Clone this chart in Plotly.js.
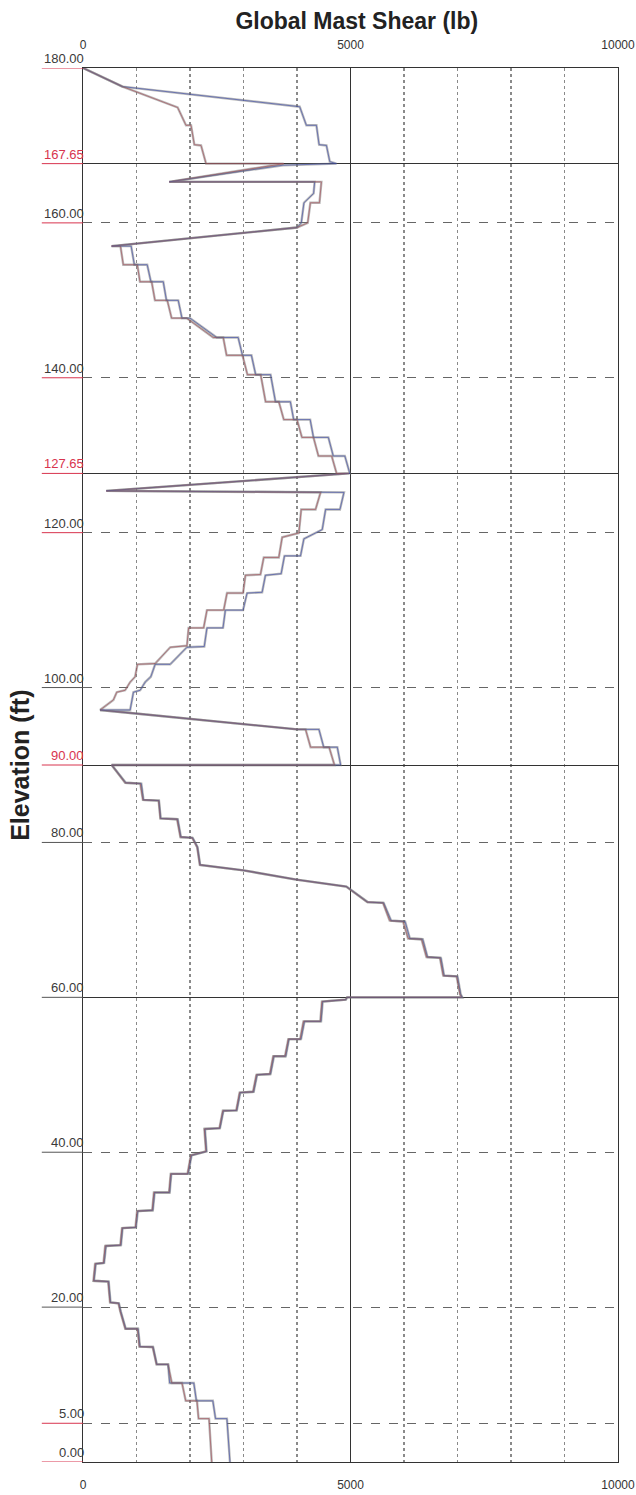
<!DOCTYPE html>
<html>
<head>
<meta charset="utf-8">
<script src="https://cdn.plot.ly/plotly-3.0.1.min.js"></script>
<style>
  html, body { margin: 0; padding: 0; background: #fff; }
  #chart { width: 636px; height: 1495px; }
</style>
</head>
<body>
<div id="chart"></div>
<script>
// ---- tick labels / elevations ----
const labelElev = [180, 167.65, 160, 140, 127.65, 120, 100, 90, 80, 60, 40, 20, 5, 0];
const labelText = ['180.00', '167.65', '160.00', '140.00', '127.65', '120.00', '100.00', '90.00', '80.00', '60.00', '40.00', '20.00', '5.00', '0.00'];
const labelRed = [false, true, false, false, true, false, false, true, false, false, false, false, false, false];
const underlineRed = [true, true, true, true, true, true, false, true, false, false, false, false, true, true];
const sectionElev = [180, 167.65, 127.65, 90, 60, 0];
const gridElev = [160, 140, 120, 100, 80, 40, 20, 5];
const shearTicks = [0, 5000, 10000];

// ---- series 1 (red) ----
const redShear = [
  0, 738, 1769, 1925, 2019, 2081, 2206, 2300,
  3750, 1613, 4456, 4420, 4250, 4200, 4000,
  535, 700, 753, 1015, 1065, 1283, 1345, 1575, 1656, 1937, 2435, 2621, 2684, 2981,
  3074, 3321, 3413, 3660, 3753, 4000, 4092, 4308, 4401, 4648, 4740,
  4970, 436, 4441, 4347, 4079, 4035, 3723, 3660, 3379, 3317, 3036, 2992, 2692, 2630, 2317,
  2255, 1974, 1943, 1630, 1349, 1018, 974, 881, 787, 631, 568, 319,
  4004, 4160, 4254, 4600, 4700,
  536, 788, 1070, 1120, 1414, 1446, 1758, 1821, 2040, 2134, 2184, 2997, 3986, 4919,
  5313, 5607, 5732, 5982, 6076, 6327, 6420, 6671, 6733, 6984, 7046, 7078,
  4937, 4906, 4466, 4435, 4121, 4058, 3838, 3775, 3555, 3492, 3241, 3178, 2927, 2864, 2613,
  2550, 2268, 2299, 2016, 1953, 1639, 1608, 1325, 1294, 1011, 980, 729, 697, 415, 383, 226,
  195, 470, 505, 662, 698, 790, 1018, 1053, 1302, 1374, 1590,
  1660, 1850, 1920, 2130, 2160, 2356, 2406
];
const redElev = [
  180, 177.6, 174.9, 172.6, 172.6, 170.1, 170.0, 167.65,
  167.65, 165.3, 165.3, 162.6, 162.6, 160.0, 159.4,
  157.0, 157.0, 154.6, 154.6, 152.4, 152.4, 150.0, 150.0, 147.7, 147.7, 145.2, 145.2, 142.9, 142.9,
  140.4, 140.4, 136.9, 136.9, 134.6, 134.6, 132.3, 132.3, 129.9, 129.9, 127.65,
  127.65, 125.4, 125.2, 123.0, 123.0, 119.96, 119.4, 116.8, 116.8, 114.6, 114.5, 112.2, 112.2, 110.0, 110.0,
  107.7, 107.7, 105.4, 105.2, 103.1, 103.0, 101.4, 100.7, 99.65, 99.4, 98.4, 97.1,
  94.6, 94.6, 92.3, 92.3, 90.0,
  90.0, 87.7, 87.6, 85.5, 85.4, 83.1, 83.0, 80.7, 80.6, 79.4, 77.1, 76.4, 75.2, 74.3,
  72.3, 72.2, 69.9, 69.8, 67.6, 67.5, 65.2, 65.1, 62.8, 62.7, 60.4, 60.0,
  60.0, 59.7, 59.45, 56.9, 56.9, 54.6, 54.6, 52.4, 52.4, 50.1, 50.0, 47.8, 47.7, 45.4, 45.35,
  43.1, 43.0, 40.1, 39.6, 37.2, 37.2, 34.8, 34.8, 32.5, 32.4, 30.3, 30.2, 28.0, 27.9, 25.7, 25.6,
  23.4, 23.3, 20.6, 20.5, 19.4, 17.2, 17.2, 14.9, 14.85, 12.6, 12.6,
  10.2, 10.2, 7.9, 7.9, 5.6, 5.6, 0
];

// ---- series 2 (blue) ----
const blueShear = [
  0, 738, 4050, 4175, 4363, 4413, 4550, 4613, 4738,
  3738, 1613, 4330, 4310, 4130, 4080, 4000,
  535, 900, 960, 1200, 1270, 1500, 1560, 1780, 1850, 2000, 2500, 2900, 2981, 3148,
  3228, 3506, 3598, 3876, 3938, 4246, 4308, 4586, 4678, 4894, 4987,
  4970, 436, 4878, 4803, 4535, 4472, 4129, 4066, 3766, 3704, 3410, 3348, 3067, 2992, 2661,
  2617, 2317, 2267, 1943, 1630, 1349, 1268, 1162, 1068, 943, 881, 319,
  4004, 4410, 4500, 4753, 4816,
  536, 800, 1090, 1130, 1420, 1452, 1770, 1830, 2050, 2140, 2190, 3000, 3990, 4925,
  5320, 5620, 5760, 6020, 6110, 6350, 6440, 6690, 6750, 7000, 7060, 7090,
  4937, 4915, 4480, 4450, 4140, 4075, 3850, 3790, 3570, 3505, 3255, 3190, 2940, 2875, 2625,
  2560, 2280, 2310, 2030, 1965, 1650, 1620, 1340, 1305, 1025, 990, 740, 710, 430, 395, 240,
  205, 480, 515, 672, 708, 800, 1030, 1065, 1310, 1380, 1590,
  1620, 2071, 2120, 2427, 2477, 2690, 2747
];
const blueElev = [
  180, 177.6, 175.0, 172.6, 172.6, 170.1, 170.0, 167.9, 167.65,
  167.45, 165.3, 165.3, 163.8, 162.6, 160.0, 159.4,
  157.0, 157.0, 154.6, 154.6, 152.4, 152.4, 150.0, 150.0, 147.7, 147.7, 145.2, 145.2, 142.9, 142.9,
  140.4, 140.4, 136.9, 136.9, 134.6, 134.6, 132.3, 132.3, 129.9, 129.9, 127.65,
  127.65, 125.4, 125.2, 123.0, 123.0, 120.4, 119.2, 117.0, 117.0, 114.7, 114.5, 112.3, 112.2, 110.0, 110.0,
  107.7, 107.7, 105.3, 105.2, 103.0, 103.0, 101.4, 100.7, 99.65, 99.4, 97.1, 97.1,
  94.6, 94.6, 92.3, 92.3, 90.0,
  90.0, 87.7, 87.6, 85.5, 85.4, 83.1, 83.0, 80.7, 80.6, 79.4, 77.1, 76.4, 75.2, 74.3,
  72.3, 72.2, 69.9, 69.8, 67.6, 67.5, 65.2, 65.1, 62.8, 62.7, 60.4, 60.0,
  60.0, 59.7, 59.45, 56.9, 56.9, 54.6, 54.6, 52.4, 52.4, 50.1, 50.0, 47.8, 47.7, 45.4, 45.35,
  43.1, 43.0, 40.1, 39.6, 37.2, 37.2, 34.8, 34.8, 32.5, 32.4, 30.3, 30.2, 28.0, 27.9, 25.7, 25.6,
  23.4, 23.3, 20.6, 20.5, 19.4, 17.2, 17.2, 14.9, 14.85, 12.6, 12.6,
  10.2, 10.2, 7.9, 7.9, 5.6, 5.6, 0
];

const FONT = 'Liberation Sans, Arial, Helvetica, sans-serif';

const traces = [
  { x: redShear, y: redElev, type: 'scatter', mode: 'lines', xaxis: 'x2',
    line: { color: 'rgba(115,115,115,0.5)', width: 2.4 }, hoverinfo: 'skip', showlegend: false },
  { x: blueShear, y: blueElev, type: 'scatter', mode: 'lines',
    line: { color: 'rgba(115,115,115,0.5)', width: 2.4 }, hoverinfo: 'skip', showlegend: false },
  { x: redShear, y: redElev, type: 'scatter', mode: 'lines', name: 'Red',
    line: { color: 'rgba(215,40,60,0.65)', width: 1 }, showlegend: false },
  { x: blueShear, y: blueElev, type: 'scatter', mode: 'lines', name: 'Blue',
    line: { color: 'rgba(55,70,170,0.6)', width: 1 }, showlegend: false }
];

const shapes = [];
const annotations = [];
labelElev.forEach((e, i) => {
  shapes.push({ type: 'line', xref: 'paper', yref: 'y', x0: -0.077, x1: 0, y0: e, y1: e,
    line: { color: underlineRed[i] ? '#d8344e' : '#555', width: 1 }, layer: 'above' });
  annotations.push({ xref: 'paper', yref: 'y', x: 0, y: e, xanchor: 'right', yanchor: 'bottom',
    xshift: 3, yshift: 0, showarrow: false, text: labelText[i],
    font: { family: FONT, size: 13, color: labelRed[i] ? '#d8344e' : '#3a3a3a' } });
});
annotations.push({ xref: 'paper', yref: 'paper', x: -0.118, y: 0.5, xanchor: 'center', yanchor: 'middle',
  textangle: -90, showarrow: false, text: 'Elevation (ft)',
  font: { family: FONT, size: 25, color: '#222', weight: 'bold' } });

const layout = {
  width: 636, height: 1495,
  margin: { l: 83, r: 18, t: 68, b: 33, pad: 0 },
  paper_bgcolor: '#fff', plot_bgcolor: '#fff',
  title: { text: '<b>Global Mast Shear (lb)</b>', x: 0.561, xref: 'container', y: 0.986, yref: 'container',
    yanchor: 'middle', font: { family: FONT, size: 23, color: '#222' } },
  xaxis: {
    range: [0, 10000], tickvals: shearTicks, ticktext: shearTicks.map(String),
    showgrid: true, gridcolor: '#333', gridwidth: 1, zeroline: false,
    showline: true, linecolor: '#333', linewidth: 1, mirror: true, ticks: '',
    ticklabelstandoff: 12,
    tickfont: { family: FONT, size: 12, color: '#333' },
    minor: { dtick: 1000, showgrid: true, griddash: 'dot', gridcolor: '#8a8a8a', gridwidth: 1.5 }
  },
  xaxis2: {
    overlaying: 'x', matches: 'x', side: 'top', anchor: 'y',
    tickvals: shearTicks, ticktext: shearTicks.map(String), showgrid: false, zeroline: false,
    ticks: '', ticklabelstandoff: 16,
    tickfont: { family: FONT, size: 12, color: '#333' }
  },
  yaxis: {
    range: [0, 180], tickvals: sectionElev, showticklabels: false, ticks: '',
    showgrid: true, gridcolor: '#333', gridwidth: 1, zeroline: false,
    showline: true, linecolor: '#333', linewidth: 1, mirror: true,
    minor: { tickvals: gridElev, showgrid: true, griddash: 'dash', gridcolor: '#666', gridwidth: 1 }
  },
  shapes: shapes,
  annotations: annotations,
  showlegend: false
};

Plotly.newPlot('chart', traces, layout, { displayModeBar: false, staticPlot: true });
</script>
</body>
</html>
